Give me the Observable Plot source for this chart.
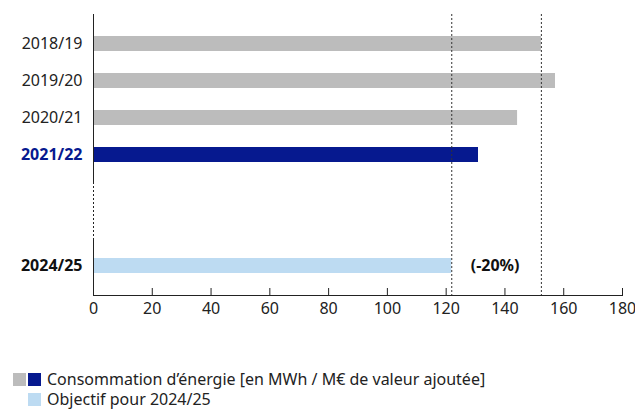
<!DOCTYPE html>
<html><head><meta charset="utf-8">
<script src="https://cdn.jsdelivr.net/npm/d3@7"></script>
<script src="https://cdn.jsdelivr.net/npm/@observablehq/plot@0.6"></script>
<style>
body{margin:0;background:#fff;font-family:"Noto Sans",sans-serif;}
#legend{padding-left:13px;margin-top:29px;font-size:16px;color:#222;line-height:20px;}
.row{display:flex;align-items:center;height:20px;}
.sw{width:13px;height:13px;display:inline-block;margin-right:2px;}
.lbl{margin-left:4px;}
</style></head>
<body><div id="chart"></div>
<div id="legend">
 <div class="row"><span class="sw" style="background:#bcbcbc"></span><span class="sw" style="background:#06198f"></span><span class="lbl">Consommation d’énergie [en MWh / M€ de valeur ajoutée]</span></div>
 <div class="row"><span class="sw" style="background:transparent"></span><span class="sw" style="background:#bddbf2"></span><span class="lbl">Objectif pour 2024/25</span></div>
</div>
<script>
const categories = ["2018/19","2019/20","2020/21","2021/22","gap1","gap2","2024/25"];
const barCats = ["2018/19","2019/20","2020/21","2021/22","2024/25"];
const values = [152.4, 157.2, 144.3, 131.0, 121.9];
const kinds = ["past","past","past","current","target"];
const refLines = [152.4, 121.9];
const xTicks = [0,20,40,60,80,100,120,140,160,180];
const normalLabels = ["2018/19","2019/20","2020/21"];
const currentLabel = ["2021/22"];
const targetLabel = ["2024/25"];
const targetNote = "(-20%)";

const colors = {past:"#bcbcbc", current:"#06198f", target:"#bddbf2"};
const data = barCats.map((c,i)=>({cat:c, value:values[i], kind:kinds[i]}));

const chart = Plot.plot({
  width: 635, height: 340,
  marginLeft: 93, marginRight: 13, marginTop: 14, marginBottom: 45,
  style: {fontFamily: '"Noto Sans", sans-serif', fontSize: "15px", color: "#222"},
  x: {domain: [0,180], axis: null, label: null},
  y: {domain: categories, paddingInner: 0.59, paddingOuter: 0.525, axis: null, label: null},
  marks: [
    Plot.barX(data, {y: "cat", x: "value", fill: d => colors[d.kind]}),
    Plot.ruleX(refLines, {stroke: "#333", strokeDasharray: "2,2", strokeWidth: 1}),
    Plot.ruleX([0], {stroke: "#222"}),
    Plot.ruleX([0], {y1: () => "gap1", y2: () => "gap2", stroke: "white", strokeWidth: 3, insetTop: -2, insetBottom: -3}),
    Plot.ruleX([0], {y1: () => "gap1", y2: () => "gap2", stroke: "#222", strokeDasharray: "2,2", insetTop: -2, insetBottom: -3}),
    Plot.frame({anchor: "bottom", stroke: "#222"}),
    Plot.ruleX(xTicks, {x: d => d, stroke: "#222", insetTop: 274}),
    Plot.axisX(xTicks, {anchor: "bottom", label: null, tickSize: 0, tickPadding: 7, fontSize: 16, fill: "#222"}),
    Plot.axisY(normalLabels, {anchor: "left", label: null, tickSize: 0, tickPadding: 11, fontSize: 16, fill: "#222"}),
    Plot.axisY(currentLabel, {anchor: "left", label: null, tickSize: 0, tickPadding: 11, fontSize: 16, fill: "#06198f", fontWeight: "bold"}),
    Plot.axisY(targetLabel, {anchor: "left", label: null, tickSize: 0, tickPadding: 11, fontSize: 16, fill: "#111", fontWeight: "bold"}),
    Plot.text([targetNote], {x: () => values[4], y: () => "2024/25", text: d => d, dx: 19, textAnchor: "start", fontWeight: "bold", fontSize: 16, fill: "#111"})
  ]
});
document.getElementById("chart").appendChild(chart);
</script>
</body></html>
